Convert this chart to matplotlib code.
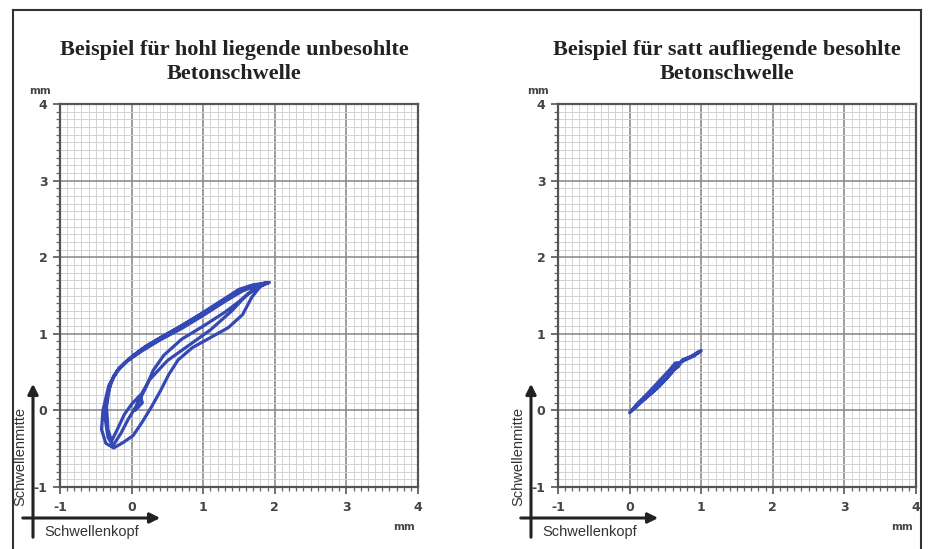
import matplotlib
matplotlib.use("Agg")
import matplotlib.pyplot as plt
from matplotlib.ticker import MultipleLocator
from matplotlib.lines import Line2D
from matplotlib.patches import FancyArrowPatch

# ---------------- data ----------------
titles = ["Beispiel für hohl liegende unbesohlte\nBetonschwelle",
          "Beispiel für satt aufliegende besohlte\nBetonschwelle"]
tick_values = [-1, 0, 1, 2, 3, 4]
tick_labels = ["-1", "0", "1", "2", "3", "4"]
x_axis_label = "Schwellenkopf"
y_axis_label = "Schwellenmitte"
unit_label = "mm"

# left panel: hysteresis loops (Schwellenkopf x, Schwellenmitte y) in mm
left_x = [1.92, 1.75, 1.55, 1.30, 1.00, 0.70, 0.40, 0.15, -0.05, -0.20, -0.32, -0.40, -0.42, -0.36, -0.25, -0.12,
          0.02, 0.15, 0.28, 0.40, 0.52, 0.65, 0.85, 1.10, 1.35, 1.55, 1.68, 1.80, 1.92,
          1.70, 1.50, 1.25, 0.95, 0.65, 0.35, 0.10, -0.10, -0.25, -0.34, -0.37, -0.33, -0.26,
          -0.15, -0.05, 0.08, 0.20, 0.30, 0.45, 0.70, 1.00, 1.30, 1.50, 1.70, 1.88,
          1.65, 1.40, 1.10, 0.80, 0.50, 0.20, 0.00, -0.18, -0.30, -0.35, -0.33, -0.28,
          -0.20, -0.10, 0.00, 0.12, 0.15, 0.05, 0.10, 0.25, 0.50, 0.80, 1.10, 1.40, 1.60, 1.85, 1.90]
left_y = [1.67, 1.63, 1.56, 1.42, 1.24, 1.07, 0.92, 0.78, 0.65, 0.52, 0.32, 0.00, -0.25, -0.43, -0.49, -0.42,
          -0.33, -0.15, 0.05, 0.25, 0.47, 0.66, 0.82, 0.95, 1.08, 1.25, 1.48, 1.62, 1.67,
          1.64, 1.58, 1.43, 1.25, 1.08, 0.92, 0.77, 0.62, 0.45, 0.20, -0.10, -0.35, -0.46,
          -0.30, -0.12, 0.08, 0.30, 0.52, 0.72, 0.93, 1.10, 1.28, 1.42, 1.58, 1.66,
          1.62, 1.50, 1.33, 1.16, 1.00, 0.84, 0.70, 0.55, 0.35, 0.05, -0.25, -0.40,
          -0.25, -0.05, 0.08, 0.20, 0.10, 0.00, 0.15, 0.40, 0.65, 0.85, 1.05, 1.30, 1.50, 1.66, 1.67]

# right panel: narrow loop
right_x = [0.00, 0.15, 0.30, 0.45, 0.58, 0.66, 0.72, 0.80, 0.90, 1.00, 0.90, 0.78, 0.70, 0.64, 0.55, 0.40,
           0.25, 0.10, 0.02, 0.20, 0.40, 0.52, 0.60, 0.68, 0.74, 0.85, 0.97]
right_y = [-0.03, 0.10, 0.22, 0.36, 0.48, 0.58, 0.64, 0.68, 0.72, 0.78, 0.71, 0.66, 0.62, 0.62, 0.52, 0.37,
           0.22, 0.08, -0.01, 0.14, 0.30, 0.42, 0.52, 0.57, 0.66, 0.70, 0.77]

# ---------------- figure ----------------
W, H = 930, 549
fig = plt.figure(figsize=(W / 100, H / 100), dpi=100)
fig.patch.set_facecolor("white")

def fx(px):
    return px / W

def fy(py):
    return 1 - py / H

line_color = "#3549b4"
spine_color = "#555555"
label_color = "#444444"

panels = [
    (60, left_x, left_y, titles[0], 234),
    (558, right_x, right_y, titles[1], 727),
]

for x0, xs, ys, title, tcx in panels:
    ax = fig.add_axes([fx(x0), fy(487), 358 / W, 383 / H])
    ax.set_xlim(-1, 4)
    ax.set_ylim(-1, 4)
    ax.xaxis.set_minor_locator(MultipleLocator(0.1))
    ax.yaxis.set_minor_locator(MultipleLocator(0.1))
    ax.set_xticks(tick_values)
    ax.set_xticklabels(tick_labels)
    ax.set_yticks(tick_values)
    ax.set_yticklabels(tick_labels)
    ax.grid(which="minor", color="#d2d2d2", linewidth=0.7)
    ax.grid(which="major", color="#8c8c8c", linewidth=1.2)
    ax.set_axisbelow(True)
    for s in ax.spines.values():
        s.set_color(spine_color)
        s.set_linewidth(1.6)
    ax.tick_params(which="major", length=5, width=1.2, color=spine_color, pad=4,
                   labelsize=9, labelcolor=label_color)
    ax.tick_params(axis="x", which="major", pad=5)
    ax.tick_params(which="minor", length=3, width=0.9, color="#666666")
    for lab in ax.get_xticklabels() + ax.get_yticklabels():
        lab.set_fontweight("bold")
    ax.plot(xs, ys, color=line_color, linewidth=2.3, solid_joinstyle="round",
            solid_capstyle="round")

    # title
    fig.text(fx(tcx), fy(62), title, ha="center", va="center", fontsize=16,
             fontweight="bold", family="Liberation Serif", color="#222222",
             linespacing=1.3)
    # unit labels
    fig.text(fx(x0 - 31), fy(91), unit_label, ha="left", va="center", fontsize=7.5,
             fontweight="bold", color=label_color)
    fig.text(fx(x0 + 355), fy(527), unit_label, ha="right", va="center", fontsize=7.5,
             fontweight="bold", color=label_color)

    # direction arrows
    ox = x0 - 27
    fig.add_artist(FancyArrowPatch((fx(ox), fy(540)), (fx(ox), fy(381)),
                                   transform=fig.transFigure, arrowstyle="-|>,head_length=6,head_width=3",
                                   color="#222222", linewidth=2.2, mutation_scale=1))
    fig.add_artist(FancyArrowPatch((fx(x0 - 40), fy(518)), (fx(x0 + 103), fy(518)),
                                   transform=fig.transFigure, arrowstyle="-|>,head_length=6,head_width=3",
                                   color="#222222", linewidth=2.2, mutation_scale=1))
    fig.text(fx(x0 - 16), fy(532), x_axis_label, ha="left", va="center", fontsize=10.5,
             color="#333333", family="Liberation Sans")
    fig.text(fx(x0 - 40), fy(456), y_axis_label, ha="center", va="center", fontsize=10.5,
             color="#333333", family="Liberation Sans", rotation=90)

# outer frame (open at bottom)
frame_kw = dict(transform=fig.transFigure, color="#333333", linewidth=1.5)
fig.add_artist(Line2D([fx(13), fx(13)], [fy(549), fy(10)], **frame_kw))
fig.add_artist(Line2D([fx(13), fx(921)], [fy(10), fy(10)], **frame_kw))
fig.add_artist(Line2D([fx(921), fx(921)], [fy(10), fy(549)], **frame_kw))

fig.savefig("out.png", dpi=100, facecolor="white")
